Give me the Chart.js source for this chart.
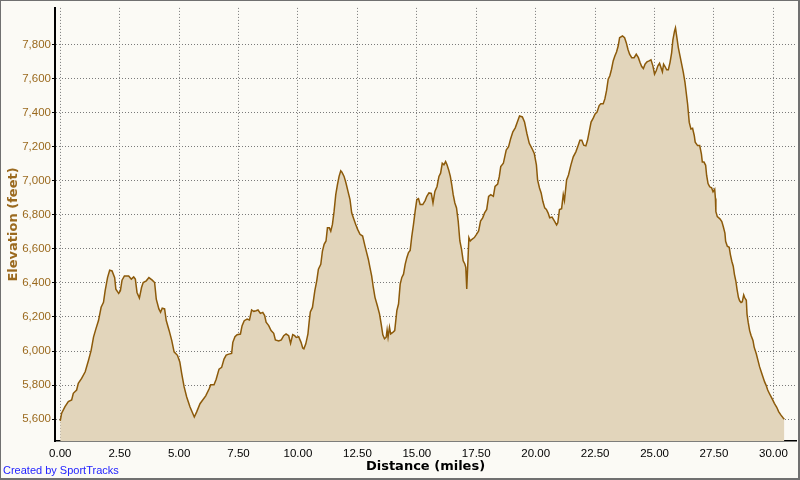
<!DOCTYPE html>
<html>
<head>
<meta charset="utf-8">
<script src="https://cdn.jsdelivr.net/npm/chart.js@4.4.1/dist/chart.umd.min.js"></script>
<style>
  html, body { margin: 0; padding: 0; background: #fbfaf5; }
  #wrap { position: relative; width: 800px; height: 480px; background: #fbfaf5; }
  #elevChart { position: absolute; left: 0; top: 0; }
  #frame {
    position: absolute; left: 0; top: 0; width: 800px; height: 480px; box-sizing: border-box;
    border-top: 1px solid #707070; border-left: 1px solid #707070;
    border-right: 2px solid #707070; border-bottom: 2px solid #707070;
    pointer-events: none;
  }
  #credit {
    position: absolute; left: 3px; top: 464px;
    font: 11px "Liberation Sans", Arial, sans-serif; color: #2323ff;
  }
</style>
</head>
<body>
<div id="wrap">
  <canvas id="elevChart" width="800" height="480"></canvas>
  <div id="credit">Created by SportTracks</div>
  <div id="frame"></div>
</div>
<script>
// distance along the route (miles)
const distance = [
  0.00, 0.06, 0.20, 0.34, 0.48, 0.55, 0.69, 0.76, 0.90, 1.05, 1.19, 1.30, 1.40, 1.50, 1.61, 1.72, 1.82, 1.89, 1.99, 2.08,
  2.18, 2.29, 2.34, 2.46, 2.53, 2.60, 2.70, 2.88, 2.99, 3.09, 3.16, 3.23, 3.33, 3.42, 3.49, 3.62, 3.73, 3.87, 3.97, 4.04,
  4.15, 4.22, 4.29, 4.39, 4.46, 4.58, 4.69, 4.79, 4.93, 5.03, 5.11, 5.21, 5.32, 5.46, 5.64, 5.74, 5.88, 5.97, 6.12, 6.26,
  6.33, 6.47, 6.56, 6.68, 6.79, 6.89, 6.98, 7.09, 7.21, 7.26, 7.35, 7.44, 7.58, 7.65, 7.74, 7.86, 7.96, 8.05, 8.14, 8.24,
  8.32, 8.42, 8.52, 8.60, 8.66, 8.77, 8.87, 8.98, 9.05, 9.19, 9.30, 9.40, 9.50, 9.61, 9.69, 9.78, 9.86, 9.93, 10.03, 10.13,
  10.20, 10.25, 10.33, 10.42, 10.47, 10.52, 10.61, 10.71, 10.79, 10.86, 10.96, 11.03, 11.10, 11.18, 11.24, 11.32, 11.38, 11.45, 11.52, 11.59,
  11.66, 11.73, 11.80, 11.85, 11.94, 12.02, 12.12, 12.19, 12.26, 12.33, 12.43, 12.51, 12.61, 12.72, 12.82, 12.89, 12.96, 13.03, 13.10, 13.17,
  13.24, 13.34, 13.43, 13.50, 13.57, 13.64, 13.71, 13.75, 13.79, 13.85, 13.90, 13.99, 14.07, 14.16, 14.23, 14.30, 14.37, 14.44, 14.51, 14.58,
  14.65, 14.72, 14.79, 14.86, 14.93, 15.00, 15.07, 15.14, 15.25, 15.35, 15.42, 15.51, 15.61, 15.68, 15.76, 15.85, 15.93, 16.00, 16.07, 16.14,
  16.21, 16.27, 16.34, 16.41, 16.47, 16.53, 16.60, 16.67, 16.74, 16.81, 16.88, 16.95, 17.02, 17.06, 17.10, 17.15, 17.19, 17.25, 17.32, 17.42,
  17.51, 17.60, 17.68, 17.77, 17.85, 17.94, 18.02, 18.11, 18.22, 18.29, 18.40, 18.47, 18.53, 18.64, 18.76, 18.86, 18.95, 19.04, 19.14, 19.24,
  19.32, 19.44, 19.53, 19.63, 19.73, 19.84, 19.94, 20.03, 20.08, 20.16, 20.23, 20.30, 20.38, 20.45, 20.52, 20.59, 20.69, 20.79, 20.88, 20.93,
  21.00, 21.09, 21.16, 21.21, 21.30, 21.38, 21.48, 21.58, 21.69, 21.79, 21.86, 21.94, 22.02, 22.11, 22.18, 22.25, 22.33, 22.42, 22.50, 22.58,
  22.67, 22.74, 22.84, 22.91, 22.98, 23.05, 23.12, 23.19, 23.26, 23.33, 23.40, 23.47, 23.53, 23.65, 23.74, 23.81, 23.88, 23.95, 24.04, 24.14,
  24.23, 24.32, 24.39, 24.46, 24.53, 24.60, 24.68, 24.77, 24.85, 24.93, 25.00, 25.07, 25.14, 25.21, 25.27, 25.33, 25.38, 25.44, 25.51, 25.58,
  25.65, 25.72, 25.77, 25.84, 25.88, 25.94, 26.00, 26.07, 26.14, 26.21, 26.28, 26.33, 26.39, 26.46, 26.53, 26.60, 26.67, 26.71, 26.81, 26.90,
  26.97, 27.01, 27.08, 27.15, 27.19, 27.25, 27.32, 27.40, 27.46, 27.53, 27.56, 27.58, 27.64, 27.75, 27.83, 27.89, 27.96, 27.99, 28.06, 28.14,
  28.19, 28.25, 28.31, 28.36, 28.42, 28.47, 28.53, 28.58, 28.64, 28.69, 28.75, 28.79, 28.86, 28.89, 28.94, 29.00, 29.06, 29.14, 29.19, 29.28,
  29.35, 29.42, 29.49, 29.56, 29.63, 29.69, 29.76, 29.83, 29.90, 29.97, 30.04, 30.14, 30.22, 30.31, 30.42, 30.46
];

// elevation at each distance (feet)
const elevation = [
  5590, 5635, 5674, 5703, 5713, 5752, 5771, 5810, 5839, 5878, 5946, 6004, 6082, 6130, 6179, 6257, 6286, 6354, 6431, 6474,
  6470, 6431, 6363, 6338, 6354, 6416, 6441, 6441, 6422, 6435, 6422, 6344, 6311, 6373, 6402, 6412, 6431, 6416, 6402, 6305,
  6247, 6228, 6251, 6247, 6179, 6121, 6063, 5995, 5975, 5936, 5868, 5791, 5730, 5672, 5613, 5643, 5691, 5708, 5737, 5777,
  5802, 5802, 5835, 5894, 5904, 5953, 5976, 5982, 5986, 6051, 6084, 6096, 6100, 6149, 6178, 6188, 6182, 6241, 6233, 6237,
  6241, 6221, 6227, 6208, 6169, 6149, 6120, 6104, 6065, 6059, 6065, 6090, 6100, 6090, 6045, 6096, 6090, 6080, 6084, 6051,
  6018, 6013, 6042, 6101, 6170, 6230, 6256, 6354, 6412, 6480, 6509, 6587, 6626, 6646, 6723, 6723, 6704, 6743, 6821, 6918,
  6976, 7025, 7058, 7050, 7025, 6986, 6928, 6889, 6811, 6782, 6743, 6714, 6685, 6675, 6616, 6578, 6539, 6490, 6441, 6373,
  6315, 6266, 6218, 6159, 6095, 6072, 6081, 6124, 6081, 6140, 6101, 6110, 6120, 6237, 6276, 6393, 6432, 6451, 6509, 6548,
  6578, 6591, 6675, 6743, 6821, 6889, 6895, 6860, 6860, 6883, 6908, 6928, 6925, 6869, 6937, 6966, 7025, 7044, 7102, 7093,
  7112, 7093, 7063, 7025, 6976, 6918, 6869, 6840, 6763, 6646, 6598, 6530, 6511, 6491, 6365, 6530, 6666, 6646, 6656, 6666,
  6685, 6705, 6763, 6782, 6811, 6831, 6908, 6918, 6908, 6966, 6980, 7025, 7083, 7102, 7180, 7199, 7248, 7287, 7310, 7349,
  7380, 7374, 7345, 7277, 7219, 7190, 7160, 7093, 7005, 6957, 6928, 6879, 6840, 6831, 6811, 6782, 6786, 6763, 6740, 6753,
  6831, 6836, 6918, 6883, 7004, 7033, 7091, 7140, 7169, 7208, 7237, 7237, 7208, 7204, 7237, 7286, 7344, 7367, 7392, 7402,
  7441, 7451, 7451, 7480, 7528, 7596, 7616, 7654, 7703, 7732, 7755, 7790, 7839, 7849, 7839, 7810, 7771, 7742, 7722, 7722,
  7742, 7722, 7693, 7670, 7658, 7684, 7697, 7703, 7709, 7674, 7625, 7645, 7674, 7689, 7664, 7639, 7684, 7670, 7651, 7651,
  7693, 7752, 7825, 7878, 7897, 7839, 7781, 7732, 7684, 7635, 7577, 7519, 7450, 7342, 7303, 7307, 7265, 7226, 7206, 7206,
  7158, 7109, 7109, 7090, 7032, 6983, 6964, 6958, 6935, 6950, 6896, 6818, 6789, 6776, 6760, 6731, 6692, 6644, 6615, 6609,
  6566, 6527, 6498, 6450, 6411, 6362, 6314, 6295, 6285, 6289, 6329, 6314, 6298, 6217, 6168, 6120, 6091, 6062, 6023, 5984,
  5945, 5907, 5877, 5848, 5819, 5800, 5771, 5751, 5732, 5713, 5693, 5670, 5645, 5625, 5606, 5600
];

const distanceTicks = [0, 2.5, 5, 7.5, 10, 12.5, 15, 17.5, 20, 22.5, 25, 27.5, 30];
const elevationTicks = [5600, 5800, 6000, 6200, 6400, 6600, 6800, 7000, 7200, 7400, 7600, 7800];

const points = distance.map((d, i) => ({ x: d, y: elevation[i] }));

new Chart(document.getElementById('elevChart'), {
  type: 'line',
  data: {
    datasets: [{
      data: points,
      borderColor: '#8c5a0a',
      borderWidth: 1.5,
      backgroundColor: '#e2d5bb',
      fill: 'start',
      pointRadius: 0,
      tension: 0
    }]
  },
  options: {
    responsive: false,
    animation: false,
    layout: { padding: { left: 0, top: 5, right: 4, bottom: 0 } },
    plugins: {
      legend: { display: false },
      tooltip: { enabled: false }
    },
    scales: {
      x: {
        type: 'linear',
        min: -0.22,
        max: 30.95,
        z: 1,
        afterBuildTicks: function(scale) {
          scale.ticks = distanceTicks.map(v => ({ value: v }));
        },
        afterFit: function(scale) { scale.height = 39; },
        ticks: {
          color: '#000',
          padding: 2,
          maxRotation: 0,
          autoSkip: false,
          font: { family: '"Liberation Sans", Arial, sans-serif', size: 11.5 },
          callback: v => Number(v).toFixed(2)
        },
        grid: {
          color: '#7a7a7a',
          tickColor: 'rgba(0,0,0,0)',
          tickLength: 4
        },
        border: { color: '#000', width: 1.5, dash: [1, 2] },
        title: {
          display: true,
          text: 'Distance (miles)',
          color: '#000',
          padding: { top: 0, bottom: 5.5 },
          font: { family: '"DejaVu Sans", Verdana, sans-serif', size: 13, weight: 'bold' }
        }
      },
      y: {
        min: 5472,
        max: 8014,
        z: 1,
        afterBuildTicks: function(scale) {
          scale.ticks = elevationTicks.map(v => ({ value: v }));
        },
        afterFit: function(scale) { scale.width = 55; },
        ticks: {
          color: '#9b6a1f',
          padding: 1,
          autoSkip: false,
          font: { family: '"Liberation Sans", Arial, sans-serif', size: 11.5 },
          callback: v => Number(v).toLocaleString('en-US')
        },
        grid: {
          color: '#7a7a7a',
          tickColor: '#000',
          tickLength: 3,
          tickBorderDash: []
        },
        border: { color: '#000', width: 2, dash: [1, 2] },
        title: {
          display: true,
          text: 'Elevation (feet)',
          color: '#9b6a1f',
          padding: { top: 6, bottom: 0 },
          font: { family: '"DejaVu Sans", Verdana, sans-serif', size: 13, weight: 'bold' }
        }
      }
    }
  }
});
</script>
</body>
</html>
